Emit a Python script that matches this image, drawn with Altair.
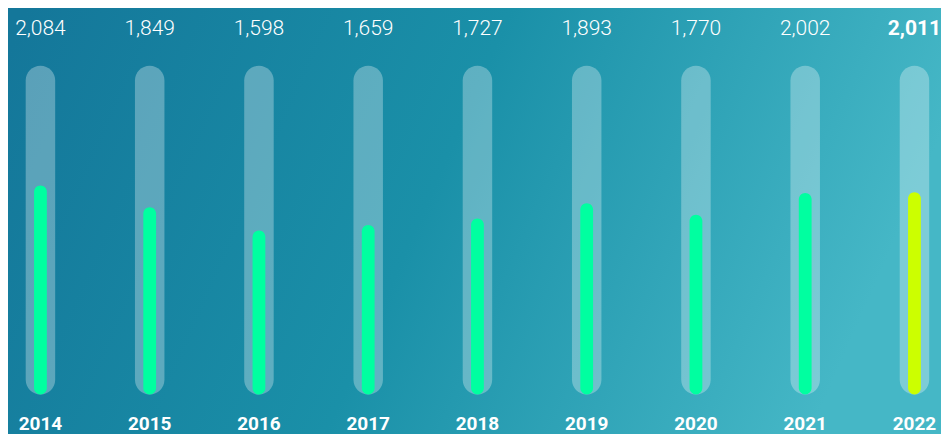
import altair as alt
import pandas as pd

years = ["2014", "2015", "2016", "2017", "2018", "2019", "2020", "2021", "2022"]
values = [2084, 1849, 1598, 1659, 1727, 1893, 1770, 2002, 2011]
labels = ["2,084", "1,849", "1,598", "1,659", "1,727", "1,893", "1,770", "2,002", "2,011"]
highlight = [False, False, False, False, False, False, False, False, True]

W, H = 933, 426
SX, SY = W / 949, H / 442

# value scale: track spans from BASE to TOP
BASE, TOP = -170, 3375

df = pd.DataFrame({
    "year": years,
    "value": values,
    "label": labels,
    "hl": highlight,
    "base": [BASE] * len(years),
    "top": [TOP] * len(years),
})

xscale = alt.Scale(type="point", domain=years, range=[33 * SX, 922 * SX], padding=0)
yscale = alt.Scale(domain=[BASE, TOP], range=[401 * SY, 60 * SY])
x = alt.X("year:N", scale=xscale, axis=None)

bg = alt.Chart(pd.DataFrame({"a": [0]})).mark_rect(
    color=alt.LinearGradient(
        gradient="linear",
        stops=[
            alt.GradientStop(color="#14779a", offset=0),
            alt.GradientStop(color="#1a90a8", offset=0.5),
            alt.GradientStop(color="#45b7c6", offset=1),
        ],
        x1=0, x2=1, y1=0.1, y2=0.3,
    )
).encode(x=alt.value(0), x2=alt.value(W), y=alt.value(0), y2=alt.value(H))

track = alt.Chart(df).mark_bar(
    color="white", opacity=0.3, size=30 * SX, cornerRadius=15 * SX
).encode(x=x, y=alt.Y("base:Q", scale=yscale, axis=None), y2="top:Q")

bars = alt.Chart(df).mark_bar(size=13 * SX, cornerRadius=6.5 * SX).encode(
    x=x,
    y=alt.Y("base:Q", scale=yscale, axis=None),
    y2="value:Q",
    color=alt.Color("hl:N", scale=alt.Scale(domain=[False, True], range=["#00ffa0", "#ccff00"]), legend=None),
)

vtext = alt.Chart(df).transform_filter("!datum.hl").mark_text(
    color="white", fontSize=21, font="Roboto", fontWeight=300, baseline="middle", align="center"
).encode(x=x, y=alt.value(22 * SY), text="label:N")

vtext_hl = alt.Chart(df).transform_filter("datum.hl").mark_text(
    color="white", fontSize=21, font="Roboto", fontWeight="bold", baseline="middle", align="center"
).encode(x=x, y=alt.value(22 * SY), text="label:N")

ytext = alt.Chart(df).mark_text(
    color="white", fontSize=19, font="Roboto",
    fontWeight="bold", baseline="middle", align="center"
).encode(x=x, y=alt.value(432 * SY), text="year:N")

chart = alt.layer(bg, track, bars, vtext, vtext_hl, ytext).properties(
    width=W, height=H, padding=0,
    autosize=alt.AutoSizeParams(type="fit", contains="padding"),
).configure_view(stroke=None)

chart.save("out.html", embed_options={"renderer": "svg", "actions": False})
